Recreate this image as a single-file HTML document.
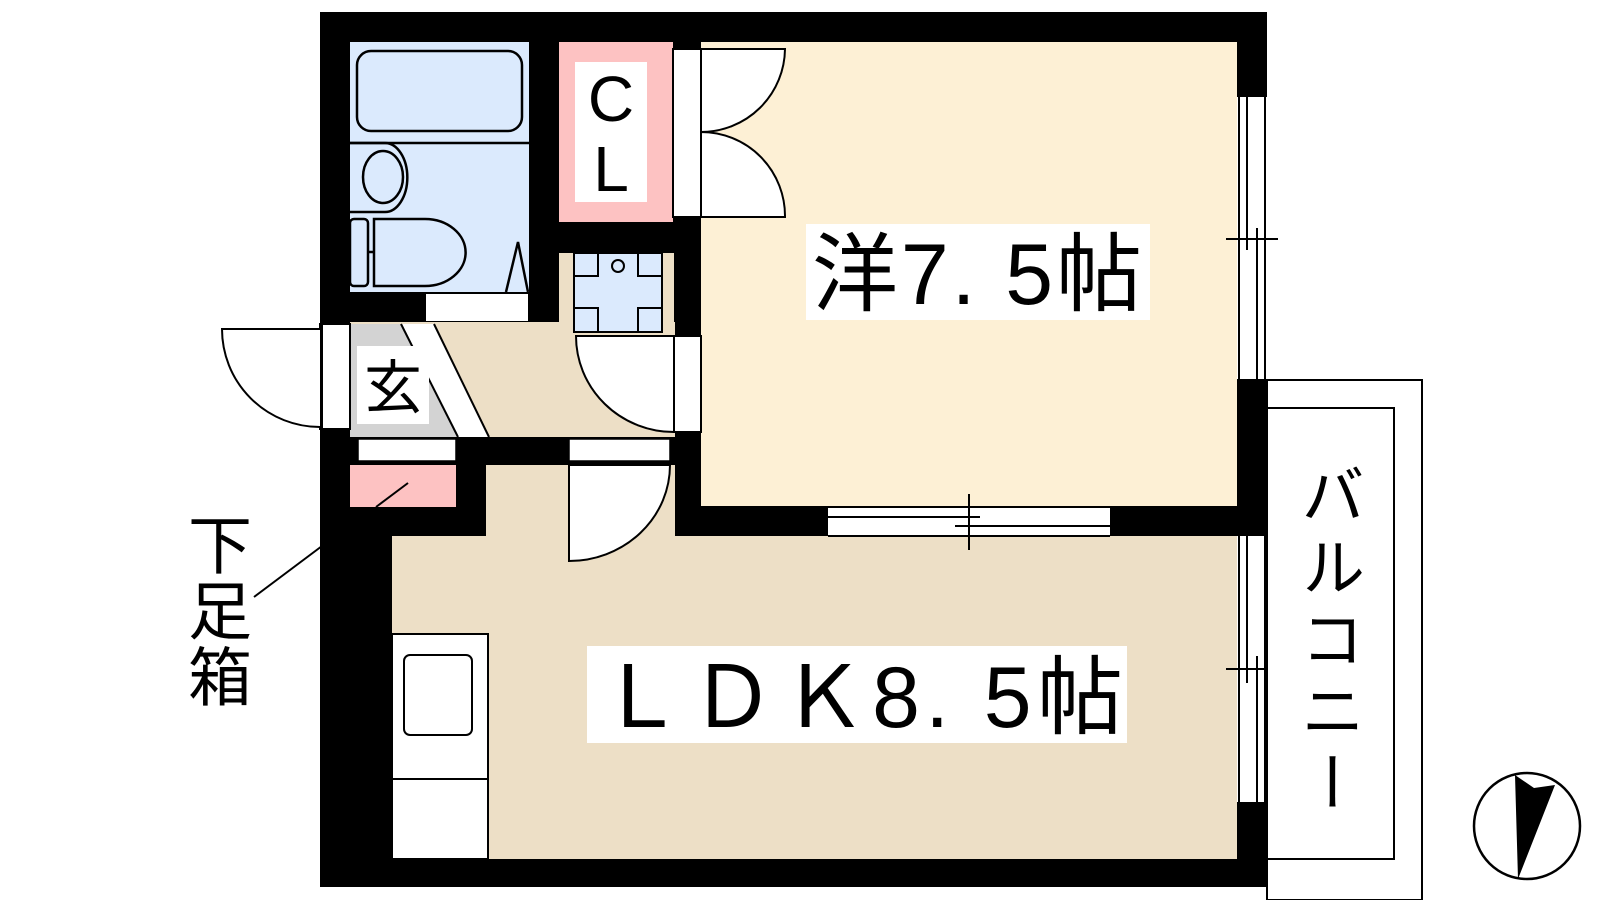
<!DOCTYPE html>
<html><head><meta charset="utf-8"><style>
html,body{margin:0;padding:0;background:#fff;}
svg{display:block}
text{font-family:"Liberation Sans","Noto Sans CJK JP",sans-serif;fill:#000}
</style></head><body>
<svg width="1600" height="900" viewBox="0 0 1600 900" xmlns="http://www.w3.org/2000/svg">
<rect x="320" y="12" width="947" height="875" fill="#000"/>
<!-- bath -->
<rect x="350" y="42" width="179" height="250" fill="#dbeafd"/>
<g fill="none" stroke="#000" stroke-width="2.5">
<rect x="357" y="51" width="165" height="80" rx="14"/>
<line x1="350" y1="143" x2="529" y2="143"/>
<path d="M350 143 H385 A22 34 0 0 1 385 212 H350"/>
<ellipse cx="383" cy="177" rx="20" ry="26"/>
<rect x="350" y="219" width="18" height="67" rx="4"/>
<path d="M374 219 H425 A40 33 0 0 1 425 286 H374 Z"/>
<line x1="368" y1="252" x2="374" y2="252"/>
<path d="M506 292 L518 242 L528 292"/>
</g>
<rect x="426" y="294" width="102" height="27" fill="#fff"/>
<!-- CL -->
<rect x="559" y="42" width="114" height="180" fill="#fdc2c2"/>
<rect x="575" y="62" width="72" height="140" fill="#fff"/>
<text x="611" y="121" font-size="64" text-anchor="middle">C</text>
<text x="611" y="191" font-size="64" text-anchor="middle">L</text>
<!-- 洋 room -->
<rect x="701" y="42" width="536" height="464" fill="#fdf0d5"/>
<rect x="673" y="49" width="28" height="168" fill="#fff" stroke="#000" stroke-width="2"/>
<path d="M701 49 H785 A84 84 0 0 1 701 132 Z" fill="#fff" stroke="#000" stroke-width="2"/>
<path d="M701 217 H785 A84 84 0 0 0 701 132 Z" fill="#fff" stroke="#000" stroke-width="2"/>
<!-- hall beige -->
<rect x="559" y="253" width="115" height="79" fill="#eddfc6"/>
<rect x="350" y="322" width="325" height="115" fill="#eddfc6"/>
<!-- washer -->
<rect x="574" y="253" width="88" height="79" fill="#dbeafd" stroke="#000" stroke-width="2"/>
<g fill="none" stroke="#000" stroke-width="2">
<path d="M598 253 V276 H574 M638 253 V276 H662 M598 332 V308 H574 M638 332 V308 H662"/>
<circle cx="618" cy="266" r="6"/>
</g>
<!-- door below washer -->
<rect x="674" y="336" width="27" height="96" fill="#fff" stroke="#000" stroke-width="2"/>
<path d="M674 336 H576 A98 96 0 0 0 674 432 Z" fill="#fff" stroke="#000" stroke-width="2"/>
<!-- genkan -->
<polygon points="350,324 401,324 458,437 350,437" fill="#d3d3d3"/>
<polygon points="401,324 434,324 489,437 458,437" fill="#fff"/>
<line x1="401" y1="324" x2="458" y2="437" stroke="#000" stroke-width="2"/>
<line x1="434" y1="324" x2="489" y2="437" stroke="#000" stroke-width="2"/>
<rect x="357" y="346" width="72" height="78" fill="#fff"/>
<text x="393" y="408" font-size="58" text-anchor="middle">玄</text>
<!-- entrance door -->
<rect x="320" y="324" width="30" height="105" fill="#fff" stroke="#000" stroke-width="2"/>
<rect x="320" y="322" width="3" height="110" fill="#000"/>
<path d="M320 329 H222 A98 98 0 0 0 320 427" fill="#fff" stroke="#000" stroke-width="2"/>
<!-- wall gaps -->
<rect x="358" y="439" width="98" height="22" fill="#fff" stroke="#000" stroke-width="1.5"/>
<rect x="569" y="439" width="101" height="22" fill="#fff" stroke="#000" stroke-width="1.5"/>
<!-- shoe box -->
<rect x="350" y="465" width="106" height="42" fill="#fdc2c2"/>
<line x1="408" y1="483" x2="376" y2="507" stroke="#000" stroke-width="2"/>
<!-- LDK -->
<rect x="486" y="465" width="189" height="72" fill="#eddfc6"/>
<rect x="392" y="536" width="845" height="323" fill="#eddfc6"/>
<path d="M569 465 H670 A101 96 0 0 1 569 561 Z" fill="#fff" stroke="#000" stroke-width="2"/>
<!-- bottom window of 洋 -->
<rect x="828" y="507" width="282" height="29" fill="#fff"/>
<g stroke="#000" stroke-width="2">
<line x1="828" y1="507" x2="1110" y2="507"/>
<line x1="828" y1="517" x2="980" y2="517"/>
<line x1="955" y1="526" x2="1110" y2="526"/>
<line x1="828" y1="536" x2="1110" y2="536"/>
<line x1="969" y1="494" x2="969" y2="550"/>
</g>
<!-- right windows -->
<rect x="1237" y="97" width="30" height="282" fill="#fff"/>
<rect x="1237" y="536" width="30" height="266" fill="#fff"/>
<g stroke="#000" stroke-width="2">
<line x1="1239" y1="97" x2="1239" y2="379"/>
<line x1="1247" y1="97" x2="1247" y2="250"/>
<line x1="1257" y1="228" x2="1257" y2="379"/>
<line x1="1265" y1="97" x2="1265" y2="379"/>
<line x1="1226" y1="239" x2="1278" y2="239"/>
<line x1="1239" y1="536" x2="1239" y2="802"/>
<line x1="1247" y1="536" x2="1247" y2="683"/>
<line x1="1257" y1="656" x2="1257" y2="802"/>
<line x1="1265" y1="536" x2="1265" y2="802"/>
<line x1="1226" y1="669" x2="1278" y2="669"/>
</g>
<!-- kitchen -->
<rect x="392" y="634" width="96" height="225" fill="#fff" stroke="#000" stroke-width="2"/>
<rect x="404" y="655" width="68" height="80" rx="6" fill="none" stroke="#000" stroke-width="2"/>
<line x1="392" y1="779" x2="488" y2="779" stroke="#000" stroke-width="2"/>
<!-- labels -->
<rect x="806" y="224" width="344" height="96" fill="#fff"/>
<text x="812" y="304" font-size="86" textLength="330" lengthAdjust="spacing">洋7. 5帖</text>
<rect x="587" y="646" width="540" height="97" fill="#fff"/>
<text x="598" y="727" font-size="86" textLength="525" lengthAdjust="spacing">ＬＤＫ8. 5帖</text>
<!-- balcony -->
<rect x="1267" y="380" width="155" height="520" fill="#fff" stroke="#000" stroke-width="2"/>
<rect x="1267" y="408" width="127" height="451" fill="none" stroke="#000" stroke-width="2"/>
<rect x="1237" y="802" width="30" height="85" fill="#000"/>
<text x="1328" y="462" font-size="64" style="writing-mode:vertical-rl;letter-spacing:8px" dominant-baseline="central">バルコニー</text>
<text x="215" y="512" font-size="64" style="writing-mode:vertical-rl;letter-spacing:2px" dominant-baseline="central">下足箱</text>
<line x1="254" y1="597" x2="322" y2="546" stroke="#000" stroke-width="2"/>
<!-- compass -->
<circle cx="1527" cy="826" r="53" fill="#fff" stroke="#000" stroke-width="2.5"/>
<polygon points="1515,775 1534,788 1555,785 1518,879" fill="#000"/>
</svg>
</body></html>
